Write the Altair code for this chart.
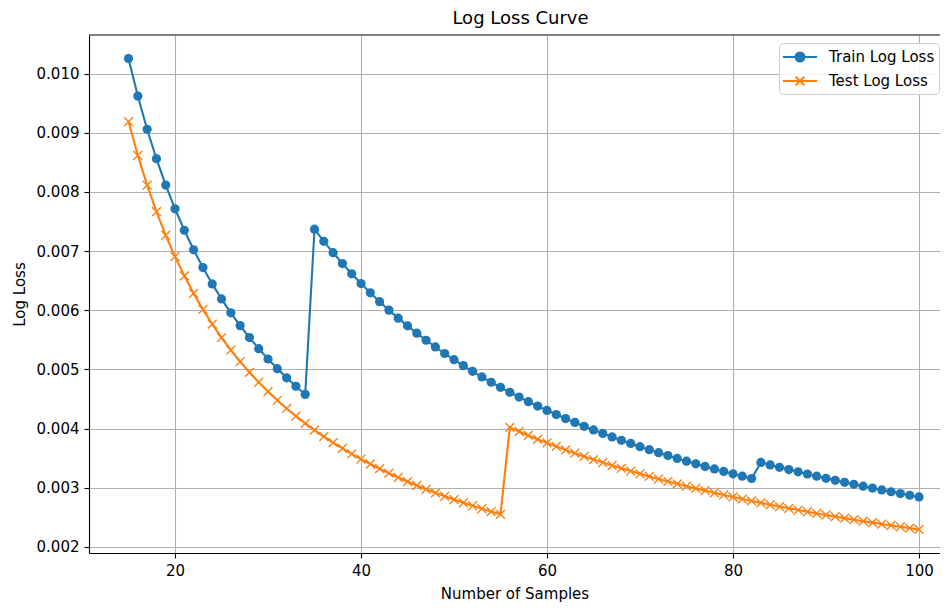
import altair as alt
import pandas as pd

samples = list(range(15, 101))

train_loss = [
    0.010255, 0.009621, 0.009060, 0.008562, 0.008117, 0.007716, 0.007353, 0.007023,
    0.006722, 0.006446, 0.006192, 0.005958, 0.005741, 0.005539, 0.005352, 0.005177,
    0.005013, 0.004859, 0.004715, 0.004579,
    0.007371, 0.007166, 0.006973, 0.006790, 0.006617, 0.006452, 0.006295, 0.006146,
    0.006003, 0.005867, 0.005737, 0.005613, 0.005494, 0.005380, 0.005270, 0.005165,
    0.005065, 0.004968, 0.004874, 0.004784, 0.004698, 0.004614, 0.004534, 0.004456,
    0.004381, 0.004308, 0.004238, 0.004170, 0.004104, 0.004040, 0.003978, 0.003918,
    0.003860, 0.003803, 0.003749, 0.003695, 0.003644, 0.003593, 0.003544, 0.003497,
    0.003450, 0.003405, 0.003361, 0.003318, 0.003277, 0.003236, 0.003196, 0.003157,
    0.003428, 0.003387, 0.003347, 0.003308, 0.003270, 0.003233, 0.003197, 0.003161,
    0.003126, 0.003092, 0.003059, 0.003027, 0.002995, 0.002964, 0.002933, 0.002903,
    0.002874, 0.002845,
]

test_loss = [
    0.009190, 0.008619, 0.008116, 0.007669, 0.007268, 0.006908, 0.006582, 0.006286,
    0.006015, 0.005767, 0.005539, 0.005328, 0.005133, 0.004952, 0.004784, 0.004626,
    0.004479, 0.004341, 0.004211, 0.004089, 0.003974, 0.003866, 0.003763, 0.003666,
    0.003573, 0.003486, 0.003402, 0.003323, 0.003247, 0.003174, 0.003105, 0.003039,
    0.002976, 0.002915, 0.002857, 0.002801, 0.002747, 0.002696, 0.002646, 0.002598,
    0.002552,
    0.004020, 0.003951, 0.003885, 0.003821, 0.003759, 0.003699, 0.003641, 0.003585,
    0.003530, 0.003477, 0.003426, 0.003377, 0.003329, 0.003282, 0.003236, 0.003192,
    0.003149, 0.003108, 0.003067, 0.003027, 0.002989, 0.002951, 0.002915, 0.002879,
    0.002845, 0.002811, 0.002778, 0.002745, 0.002714, 0.002683, 0.002653, 0.002624,
    0.002595, 0.002567, 0.002540, 0.002513, 0.002487, 0.002461, 0.002436, 0.002412,
    0.002387, 0.002364, 0.002341, 0.002318, 0.002296,
]

series_names = ["Train Log Loss", "Test Log Loss"]
series_colors = ["#1f77b4", "#ff7f0e"]
x_ticks = [20, 40, 60, 80, 100]
y_ticks = [0.002, 0.003, 0.004, 0.005, 0.006, 0.007, 0.008, 0.009, 0.010]

FONT = "DejaVu Sans"
W, H = 851, 518

train_df = pd.DataFrame({"samples": samples, "loss": train_loss, "series": series_names[0]})
test_df = pd.DataFrame({"samples": samples, "loss": test_loss, "series": series_names[1]})
both_df = pd.concat([train_df, test_df], ignore_index=True)

x_scale = alt.Scale(domain=[10.75, 102.26], nice=False, zero=False)
y_scale = alt.Scale(domain=[0.001898, 0.010653], nice=False, zero=False)

axis_common = dict(
    grid=True, gridColor="#b0b0b0", gridWidth=1.1,
    domainColor="#000000", domainWidth=1.1,
    tickColor="#000000", tickWidth=1.1, tickSize=5,
    labelFont=FONT, labelFontSize=15, labelColor="#000000", labelPadding=5,
    titleFont=FONT, titleFontSize=15, titleFontWeight="normal", titleColor="#000000",
)
x_axis = alt.Axis(values=x_ticks, title="Number of Samples", titlePadding=8, **axis_common)
y_axis = alt.Axis(values=y_ticks, format=".3f", title="Log Loss", titlePadding=9, **axis_common)

X = alt.X("samples:Q", scale=x_scale, axis=x_axis)
Y = alt.Y("loss:Q", scale=y_scale, axis=y_axis)

train_line = alt.Chart(train_df).mark_line(color=series_colors[0], strokeWidth=2.1).encode(x=X, y=Y)
train_pts = alt.Chart(train_df).mark_point(
    shape="circle", filled=True, size=85, opacity=1, color=series_colors[0]
).encode(x=X, y=Y)
test_line = alt.Chart(test_df).mark_line(color=series_colors[1], strokeWidth=2.1).encode(x=X, y=Y)
test_pts = alt.Chart(test_df).mark_point(
    shape="M-1,-1L1,1M-1,1L1,-1", filled=False, size=78, strokeWidth=1.4,
    opacity=1, color=series_colors[1]
).encode(x=X, y=Y)

top_border = alt.Chart(pd.DataFrame({"k": [0]})).mark_rule(
    color="#000000", strokeWidth=1.1
).encode(x=alt.value(0), x2=alt.value(W), y=alt.value(0))

train_sym = "M-1.9 0L1.9 0M-0.5 0A0.5 0.5 0 1 0 0.5 0A0.5 0.5 0 1 0 -0.5 0Z"
test_sym = "M-1.9 0L1.9 0M-0.48 -0.48L0.48 0.48M-0.48 0.48L0.48 -0.48"

legend = alt.Legend(
    title=None, orient="none", legendX=690, legendY=8,
    symbolSize=324, symbolStrokeWidth=2.0, symbolOffset=7, symbolOpacity=1,
    labelOffset=19, labelFont=FONT, labelFontSize=15, labelColor="#000000",
    padding=4, rowPadding=5, strokeColor="#cccccc", fillColor="rgba(255,255,255,0.85)",
    cornerRadius=4,
)

legend_layer = alt.Chart(both_df).transform_filter("false").mark_point(
    opacity=1, filled=False
).encode(
    x=X, y=Y,
    shape=alt.Shape("series:N", scale=alt.Scale(domain=series_names, range=[train_sym, test_sym]), legend=legend),
    stroke=alt.Stroke("series:N", scale=alt.Scale(domain=series_names, range=series_colors), legend=legend),
    fill=alt.Fill("series:N", scale=alt.Scale(domain=series_names, range=[series_colors[0], "transparent"]), legend=legend),
)

chart = alt.layer(
    train_line, train_pts, test_line, test_pts, top_border, legend_layer
).properties(
    width=W, height=H,
    title=alt.Title(
        "Log Loss Curve", font=FONT, fontSize=18, fontWeight="normal", color="#000000",
        anchor="middle", frame="group", dx=6, offset=6,
    ),
    autosize=alt.AutoSizeParams(type="none"),
    padding={"left": 81, "top": 27, "right": 0, "bottom": 55},
    background="white",
).configure_view(stroke=None)

chart.save("out.html", embed_options={"renderer": "svg", "actions": False})
